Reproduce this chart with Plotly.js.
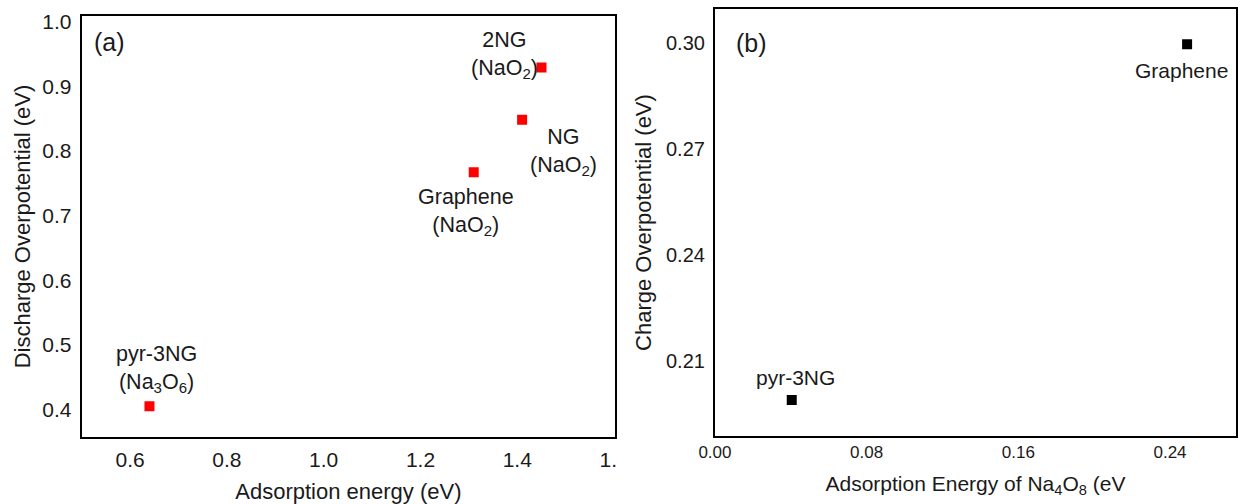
<!DOCTYPE html>
<html>
<head>
<meta charset="utf-8">
<script src="https://cdn.plot.ly/plotly-3.0.1.min.js"></script>
<style>html,body{margin:0;padding:0;background:#fff;}#chart{width:1238px;height:504px;}</style>
</head>
<body>
<div id="chart"></div>
<script>
// Panel (a): discharge overpotential vs adsorption energy
var catsA = ["pyr-3NG (Na3O6)", "Graphene (NaO2)", "NG (NaO2)", "2NG (NaO2)"];
var adsA = [0.64, 1.31, 1.41, 1.45];
var dischargeA = [0.405, 0.767, 0.848, 0.929];
var labelsA = ["pyr-3NG<br>(Na<sub>3</sub>O<sub>6</sub>)", "Graphene<br>(NaO<sub>2</sub>)", "NG<br>(NaO<sub>2</sub>)", "2NG<br>(NaO<sub>2</sub>)"];
var xTicksA = [0.6, 0.8, 1.0, 1.2, 1.4, 1.6];
var xTickTextA = ["0.6", "0.8", "1.0", "1.2", "1.4", "1.6"];
var yTicksA = [0.4, 0.5, 0.6, 0.7, 0.8, 0.9, 1.0];
var yTickTextA = ["0.4", "0.5", "0.6", "0.7", "0.8", "0.9", "1.0"];

// Panel (b): charge overpotential vs adsorption energy of Na4O8
var catsB = ["pyr-3NG", "Graphene"];
var adsB = [0.0405, 0.249];
var chargeB = [0.199, 0.2997];
var labelsB = ["pyr-3NG", "Graphene"];
var xTicksB = [0.00, 0.08, 0.16, 0.24];
var xTickTextB = ["0.00", "0.08", "0.16", "0.24"];
var yTicksB = [0.21, 0.24, 0.27, 0.30];
var yTickTextB = ["0.21", "0.24", "0.27", "0.30"];

// label placement (text centre in data units)
var labelPosA = [[0.6545, 0.4624], [1.294, 0.7047], [1.4965, 0.798], [1.373, 0.948]];
var labelPosB = [[0.0427, 0.2054], [0.2463, 0.2922]];

var FONT = "Liberation Sans, Arial, sans-serif";
var TXT = "#1a1a1a";

var traces = [
  {x: adsA, y: dischargeA, text: catsA, type: "scatter", mode: "markers",
   marker: {symbol: "square", size: 10, color: "#ff0000"}, xaxis: "x", yaxis: "y", hoverinfo: "text+x+y"},
  {x: adsB, y: chargeB, text: catsB, type: "scatter", mode: "markers",
   marker: {symbol: "square", size: 10, color: "#000000"}, xaxis: "x2", yaxis: "y2", hoverinfo: "text+x+y"}
];

var annotations = [];
labelsA.forEach(function (t, i) {
  annotations.push({xref: "x", yref: "y", x: labelPosA[i][0], y: labelPosA[i][1], text: t,
    showarrow: false, xanchor: "center", yanchor: "middle", align: "center",
    font: {family: FONT, size: 21.5, color: TXT}});
});
labelsB.forEach(function (t, i) {
  annotations.push({xref: "x2", yref: "y2", x: labelPosB[i][0], y: labelPosB[i][1], text: t,
    showarrow: false, xanchor: "center", yanchor: "middle",
    font: {family: FONT, size: 21, color: TXT}});
});
annotations.push({xref: "x", yref: "y", x: 0.5564, y: 0.9686, text: "(a)", showarrow: false,
  xanchor: "center", yanchor: "middle", font: {family: FONT, size: 25, color: TXT}});
annotations.push({xref: "x2", yref: "y2", x: 0.0195, y: 0.3001, text: "(b)", showarrow: false,
  xanchor: "center", yanchor: "middle", font: {family: FONT, size: 25, color: TXT}});

var axisCommon = {showgrid: false, zeroline: false, showline: true, linecolor: "#000", linewidth: 2,
  mirror: true, ticks: "", tickcolor: "#000", fixedrange: true};

var layout = {
  width: 1238, height: 504,
  margin: {l: 0, r: 0, t: 0, b: 0},
  paper_bgcolor: "#fff", plot_bgcolor: "#fff",
  showlegend: false,
  font: {family: FONT, color: TXT},
  xaxis: Object.assign({}, axisCommon, {
    domain: [0.066, 0.4968], range: [0.5, 1.602], tickmode: "array",
    tickvals: xTicksA, ticktext: xTickTextA, tickfont: {size: 21, color: TXT}, ticklabelstandoff: 2,
    title: {text: "Adsorption energy (eV)", font: {size: 22, color: TXT}, standoff: 14}, anchor: "y"}),
  yaxis: Object.assign({}, axisCommon, {
    domain: [0.1323, 0.9688], range: [0.357, 1.009], tickmode: "array",
    tickvals: yTicksA, ticktext: yTickTextA, tickfont: {size: 21, color: TXT}, ticklabelstandoff: 4,
    title: {text: "Discharge Overpotential (eV)", font: {size: 22, color: TXT}, standoff: 6}, anchor: "x"}),
  xaxis2: Object.assign({}, axisCommon, {
    domain: [0.5775, 0.9984], range: [0, 0.2748], tickmode: "array",
    tickvals: xTicksB, ticktext: xTickTextB, tickfont: {size: 17, color: TXT}, ticklabelstandoff: 0,
    title: {text: "Adsorption Energy of Na<sub>4</sub>O<sub>8</sub> (eV", font: {size: 21, color: TXT}, standoff: 15}, anchor: "y2"}),
  yaxis2: Object.assign({}, axisCommon, {
    domain: [0.1355, 0.9815], range: [0.1889, 0.3096], tickmode: "array",
    tickvals: yTicksB, ticktext: yTickTextB, tickfont: {size: 20, color: TXT}, ticklabelstandoff: 4,
    title: {text: "Charge Overpotential (eV)", font: {size: 22, color: TXT}, standoff: 8}, anchor: "x2"}),
  annotations: annotations,
  shapes: [
    {type: "rect", xref: "paper", yref: "paper", x0: 616.5 / 1238, x1: 645 / 1238, y0: 0, y1: 0.125,
     fillcolor: "#fff", line: {width: 0}, layer: "above"}
  ]
};

Plotly.newPlot("chart", traces, layout, {displayModeBar: false, staticPlot: true});
</script>
</body>
</html>
